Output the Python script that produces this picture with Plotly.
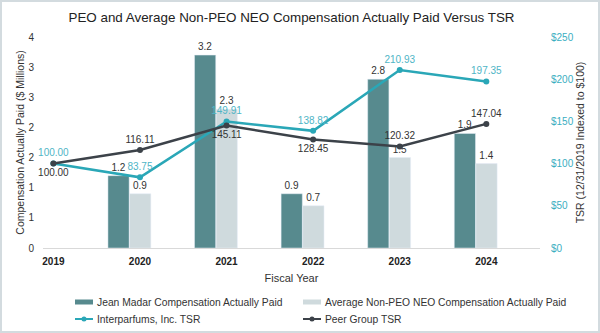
import plotly.graph_objects as go

# Fiscal years and compensation (in $ millions)
years = [2019, 2020, 2021, 2022, 2023, 2024]
madar_cap = [None, 1.2, 3.2, 0.9, 2.8, 1.9]
neo_cap = [None, 0.9, 2.3, 0.7, 1.5, 1.4]

# Total shareholder return, indexed to $100 at 12/31/2019
ip_tsr = [100.00, 83.75, 149.91, 138.82, 210.93, 197.35]
peer_tsr = [100.00, 116.11, 145.11, 128.45, 120.32, 147.04]

# Left axis tick labels (half-million steps shown rounded)
left_tickvals = [0, 0.5, 1, 1.5, 2, 2.5, 3, 3.5]
left_ticktext = ["0", "1", "1", "2", "2", "3", "3", "4"]
right_tickvals = [0, 50, 100, 150, 200, 250]
right_ticktext = ["$0", "$50", "$100", "$150", "$200", "$250"]

ip_text_pos = ["top center"] * 6
peer_text_pos = ["bottom center", "top center", "bottom center",
                 "bottom center", "top center", "top center"]

series_names = ["Jean Madar Compensation Actually Paid",
                "Average Non-PEO NEO Compensation Actually Paid",
                "Interparfums, Inc. TSR",
                "Peer Group TSR"]

DARK_BAR = "#578a8e"
LIGHT_BAR = "#cfdadd"
IP_LINE = "#2aa7b7"
IP_TEXT = "#4fb5c6"
PEER_LINE = "#3c4249"
FONT = "Liberation Sans, Arial, sans-serif"

W, H = 600, 333
ML, MR, MT, MB = 43, 60, 37, 85
pw = W - ML - MR
ph = H - MT - MB


def px_x(p):
    """Figure pixel column -> paper x."""
    return (p - ML) / pw


def px_y(p):
    """Figure pixel row -> paper y."""
    return (MT + ph - p) / ph


fig = go.Figure()

fig.add_trace(go.Bar(
    x=years, y=madar_cap, name=series_names[0],
    marker_color=DARK_BAR, width=0.245, offset=-0.37,
    text=[f"{v:.1f}" if v is not None else "" for v in madar_cap],
    textposition="outside", textfont=dict(size=10, color="#333333"),
    cliponaxis=False, yaxis="y",
))
fig.add_trace(go.Bar(
    x=years, y=neo_cap, name=series_names[1],
    marker_color=LIGHT_BAR, width=0.245, offset=-0.12,
    text=[f"{v:.1f}" if v is not None else "" for v in neo_cap],
    textposition="outside", textfont=dict(size=10, color="#333333"),
    cliponaxis=False, yaxis="y",
))
fig.add_trace(go.Scatter(
    x=years, y=ip_tsr, name=series_names[2], mode="lines+markers+text",
    line=dict(color=IP_LINE, width=2.5), marker=dict(size=6, color=IP_LINE),
    text=[f"{v:.2f}" for v in ip_tsr], textposition=ip_text_pos,
    textfont=dict(size=10, color=IP_TEXT), cliponaxis=False, yaxis="y2",
))
fig.add_trace(go.Scatter(
    x=years, y=peer_tsr, name=series_names[3], mode="lines+markers+text",
    line=dict(color=PEER_LINE, width=2.5), marker=dict(size=6, color=PEER_LINE),
    text=[f"{v:.2f}" for v in peer_tsr], textposition=peer_text_pos,
    textfont=dict(size=10, color="#333333"), cliponaxis=False, yaxis="y2",
))

fig.update_layout(
    width=W, height=H,
    margin=dict(l=ML, r=MR, t=MT, b=MB, pad=0),
    paper_bgcolor="white", plot_bgcolor="white",
    font=dict(family=FONT, size=10, color="#333333"),
    title=dict(text="PEO and Average Non-PEO NEO Compensation Actually Paid Versus TSR",
               x=0.5, xref="paper", xanchor="center", y=1 - 17 / H, yanchor="middle",
               font=dict(size=13.4, color="#222222")),
    barmode="overlay",
    showlegend=False,
    xaxis=dict(range=[2018.88, 2024.62], tickmode="array", tickvals=years,
               ticktext=[f"<b>{y}</b>" for y in years],
               showgrid=False, zeroline=False, showline=True, linecolor="#d9d9d9",
               linewidth=1, ticks="", ticklabelstandoff=4,
               tickfont=dict(size=10, color="#222222"),
               title=dict(text="Fiscal Year", font=dict(size=11, color="#333333"),
                          standoff=8)),
    yaxis=dict(range=[0, 3.5], tickmode="array", tickvals=left_tickvals,
               ticktext=left_ticktext, showgrid=False, zeroline=False,
               showline=False, ticks="", ticklabelstandoff=8,
               tickfont=dict(size=10, color="#333333"),
               title=dict(text="Compensation Actually Paid ($ Millions)",
                          font=dict(size=10.5, color="#333333"), standoff=1)),
    yaxis2=dict(range=[0, 250], overlaying="y", side="right", tickmode="array",
                tickvals=right_tickvals, ticktext=right_ticktext,
                showgrid=False, zeroline=False, showline=False, ticks="",
                ticklabelstandoff=10,
                tickfont=dict(size=10, color="#3aaec1"),
                title=dict(text="TSR (12/31/2019 Indexed to $100)",
                           font=dict(size=10.5, color="#333333"), standoff=0)),
)

# Legend drawn as a two-column key below the axis
col_x = [75, 303]
row_y = [302, 319]
swatch_w = 18
entries = [
    (series_names[0], "bar", DARK_BAR, col_x[0], row_y[0]),
    (series_names[1], "bar", LIGHT_BAR, col_x[1], row_y[0]),
    (series_names[2], "line", IP_LINE, col_x[0], row_y[1]),
    (series_names[3], "line", PEER_LINE, col_x[1], row_y[1]),
]
for label, kind, color, x0, yc in entries:
    if kind == "bar":
        fig.add_shape(type="rect", xref="paper", yref="paper",
                      x0=px_x(x0), x1=px_x(x0 + swatch_w),
                      y0=px_y(yc + 2.5), y1=px_y(yc - 2.5),
                      line=dict(width=0), fillcolor=color)
    else:
        fig.add_shape(type="line", xref="paper", yref="paper",
                      x0=px_x(x0), x1=px_x(x0 + swatch_w),
                      y0=px_y(yc), y1=px_y(yc),
                      line=dict(color=color, width=2))
        fig.add_shape(type="circle", xref="paper", yref="paper",
                      x0=px_x(x0 + 6.5), x1=px_x(x0 + 11.5),
                      y0=px_y(yc + 2.5), y1=px_y(yc - 2.5),
                      line=dict(width=0), fillcolor=color)
    fig.add_annotation(text=label, xref="paper", yref="paper",
                       x=px_x(x0 + swatch_w + 2), y=px_y(yc),
                       xanchor="left", yanchor="middle", showarrow=False,
                       font=dict(size=10.3, color="#333333"))

# Thin frame around the whole figure
fig.add_shape(type="rect", xref="paper", yref="paper",
              x0=px_x(1), x1=px_x(W - 1), y0=px_y(H - 1), y1=px_y(1),
              line=dict(color="#d3dbdf", width=2), layer="below")

fig.write_html("out.html")
